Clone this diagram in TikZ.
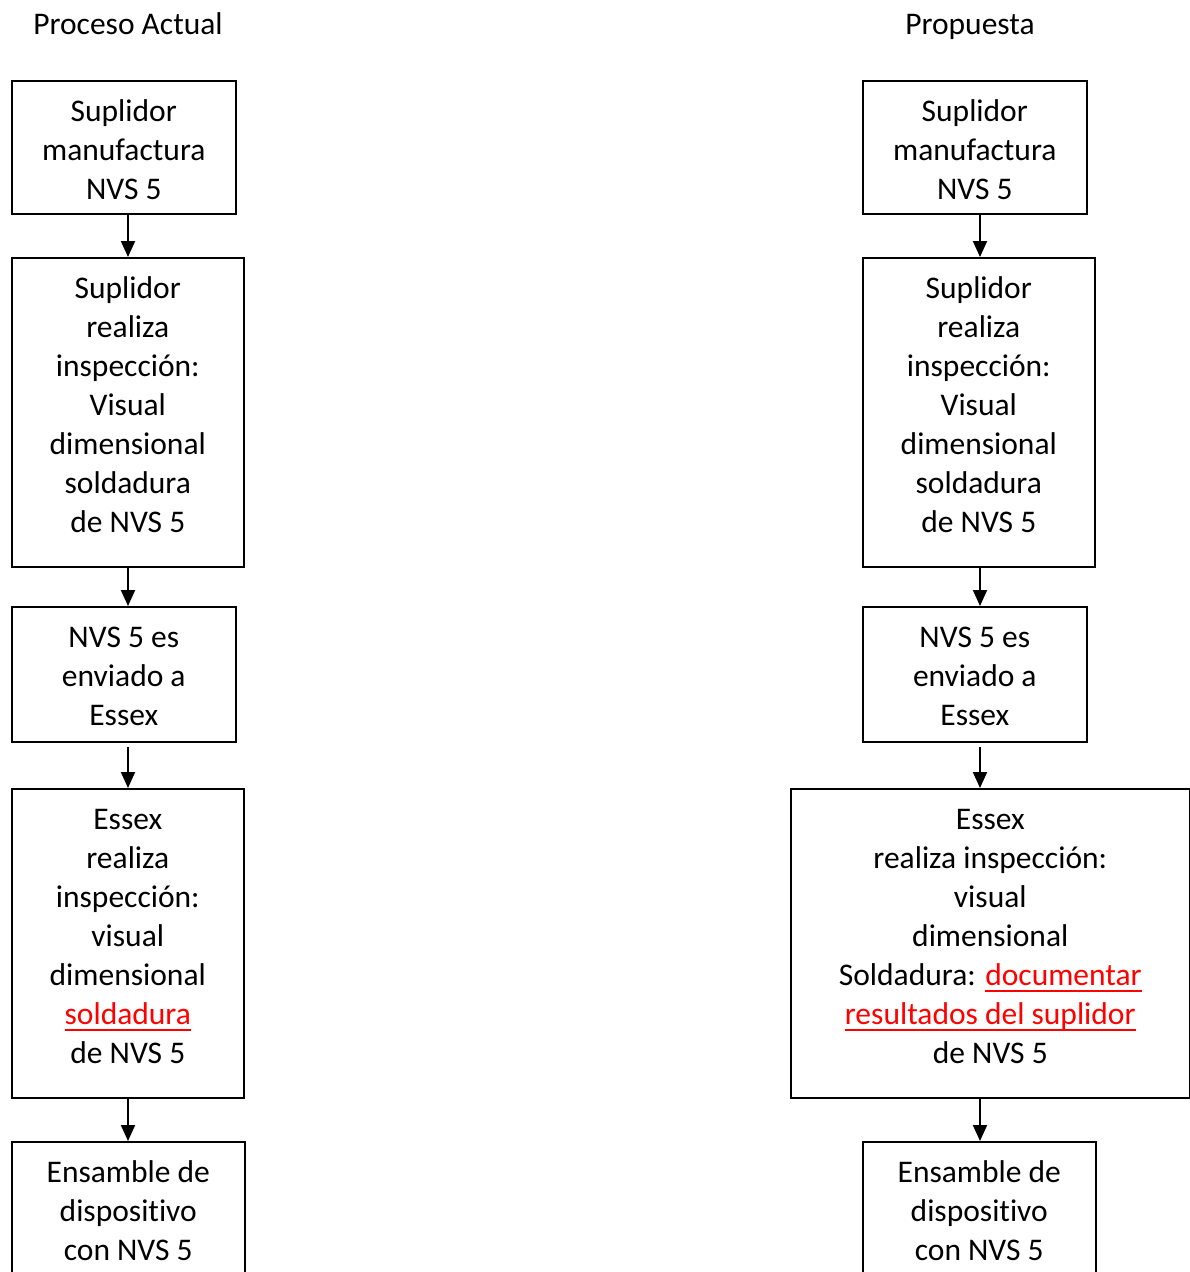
\documentclass[tikz,border=0pt]{standalone}
\usepackage{fontspec}
\setmainfont{Carlito}[Ligatures=NoCommon]
\usetikzlibrary{arrows.meta}
\definecolor{mark}{RGB}{255,0,0}
% red text with a red rule beneath it
\newsavebox{\ulbox}
\newcommand{\redul}[1]{{\color{mark}\sbox\ulbox{#1}\rlap{\rule[-7pt]{\wd\ulbox}{2pt}}\usebox\ulbox}}
% fixed-height opening strut so every label's first baseline sits at the same depth
\newcommand{\firstline}{\rule{0pt}{26pt}}
\begin{document}
\begin{tikzpicture}[x=1pt,y=-1pt,
  box/.style={draw, line width=1.6pt, inner sep=0pt, anchor=north west},
  lbl/.style={anchor=north, inner sep=0pt, align=center, yshift=-15pt,
    font=\fontsize{31.5}{39}\selectfont},
  title/.style={inner sep=0pt, anchor=base, font=\fontsize{31.5}{39}\selectfont},
  flow/.style={line width=2pt, -{Triangle[width=14pt,length=16pt]}}]
\useasboundingbox (0,0) rectangle (1190,1272);

% column headings
\node[title] (tL) at (128,34) {Proceso Actual};
\node[title] (tR) at (970,34) {Propuesta};

% arrow axes
\coordinate (axL) at (128,0);
\coordinate (axR) at (980,0);

% ---- left column ----
\node[box, minimum width=224pt, minimum height=133pt] (L1) at (11,80) {};
\node[box, minimum width=232pt, minimum height=309pt] (L2) at (11,257) {};
\node[box, minimum width=224pt, minimum height=135pt] (L3) at (11,606) {};
\node[box, minimum width=232pt, minimum height=309pt] (L4) at (11,788) {};
\node[box, minimum width=233pt, minimum height=150pt] (L5) at (11,1141) {};

\node[lbl] (l1) at (L1.north) {\firstline Suplidor\\manufactura\\NVS 5};
\node[lbl] (l2) at (L2.north) {\firstline Suplidor\\realiza\\inspección:\\Visual\\dimensional\\soldadura\\de NVS 5};
\node[lbl] (l3) at (L3.north) {\firstline NVS 5 es\\enviado a\\Essex};
\node[lbl] (l4) at (L4.north) {\firstline Essex\\realiza\\inspección:\\visual\\dimensional\\\redul{soldadura}\\de NVS 5};
\node[lbl] (l5) at (L5.north) {\firstline Ensamble de\\dispositivo\\con NVS 5};

\draw[flow] (L1.south -| axL) -- (L2.north -| axL);
\draw[flow] (L2.south -| axL) -- (L3.north -| axL);
\draw[flow] ([yshift=-4pt]L3.south -| axL) -- (L4.north -| axL);
\draw[flow] (L4.south -| axL) -- (L5.north -| axL);

% ---- right column ----
\node[box, minimum width=224pt, minimum height=133pt] (R1) at (862,80) {};
\node[box, minimum width=232pt, minimum height=309pt] (R2) at (862,257) {};
\node[box, minimum width=224pt, minimum height=135pt] (R3) at (862,606) {};
\node[box, minimum width=399pt, minimum height=309pt] (R4) at (790,788) {};
\node[box, minimum width=233pt, minimum height=150pt] (R5) at (862,1141) {};

\node[lbl] (r1) at (R1.north) {\firstline Suplidor\\manufactura\\NVS 5};
\node[lbl] (r2) at (R2.north) {\firstline Suplidor\\realiza\\inspección:\\Visual\\dimensional\\soldadura\\de NVS 5};
\node[lbl] (r3) at (R3.north) {\firstline NVS 5 es\\enviado a\\Essex};
\node[lbl] (r4) at (R4.north) {\firstline Essex\\realiza inspección:\\visual\\dimensional\\Soldadura: \redul{documentar}\\\redul{resultados del suplidor}\\de NVS 5};
\node[lbl] (r5) at (R5.north) {\firstline Ensamble de\\dispositivo\\con NVS 5};

\draw[flow] (R1.south -| axR) -- (R2.north -| axR);
\draw[flow] (R2.south -| axR) -- (R3.north -| axR);
\draw[flow] ([yshift=-4pt]R3.south -| axR) -- (R4.north -| axR);
\draw[flow] (R4.south -| axR) -- (R5.north -| axR);
\end{tikzpicture}
\end{document}
